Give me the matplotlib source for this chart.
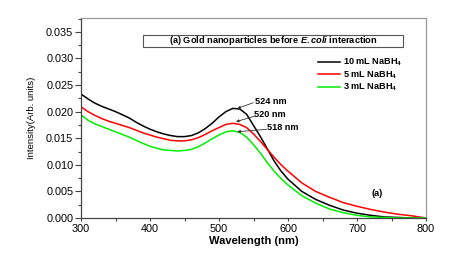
import matplotlib
matplotlib.use("Agg")
import matplotlib.pyplot as plt
from matplotlib.patches import Rectangle
from matplotlib.ticker import MultipleLocator, FormatStrFormatter

plt.rcParams['font.family'] = ['Liberation Sans', 'DejaVu Sans']
plt.rcParams['mathtext.fontset'] = 'custom'
plt.rcParams['mathtext.rm'] = 'Liberation Sans:bold'
plt.rcParams['mathtext.it'] = 'Liberation Sans:italic:bold'
plt.rcParams['mathtext.bf'] = 'Liberation Sans:bold'

# ---- data ----
wavelength = [300, 310, 320, 330, 340, 350, 360, 370, 380, 390,
              400, 410, 420, 430, 440, 450, 460, 470, 480, 490,
              500, 510, 520, 530, 540, 550, 560, 570, 580, 590,
              600, 620, 640, 660, 680, 700, 720, 740, 760, 780, 800]

nabh4_10 = [0.0233, 0.0224, 0.0216, 0.0210, 0.0205, 0.0200, 0.0194, 0.0188, 0.0180, 0.0173,
            0.0167, 0.0162, 0.0158, 0.0155, 0.0153, 0.0153, 0.0155, 0.0160, 0.0168, 0.0178,
            0.0190, 0.0200, 0.0206, 0.0205, 0.0195, 0.0174, 0.0153, 0.0130, 0.0107, 0.0088,
            0.0073, 0.0050, 0.0035, 0.0024, 0.0015, 0.0009, 0.0005, 0.0002, 0.0001, 0.0000, 0.0000]

nabh4_5 = [0.0209, 0.0200, 0.0193, 0.0187, 0.0182, 0.0178, 0.0174, 0.0170, 0.0165, 0.0160,
           0.0156, 0.0152, 0.0149, 0.0146, 0.0145, 0.0145, 0.0147, 0.0151, 0.0157, 0.0164,
           0.0170, 0.0176, 0.0178, 0.0176, 0.0170, 0.0158, 0.0144, 0.0129, 0.0114, 0.0100,
           0.0088, 0.0066, 0.0050, 0.0039, 0.0029, 0.0022, 0.0016, 0.0011, 0.0007, 0.0004, 0.0000]

nabh4_3 = [0.0194, 0.0184, 0.0177, 0.0172, 0.0167, 0.0162, 0.0157, 0.0152, 0.0146, 0.0140,
           0.0135, 0.0131, 0.0128, 0.0127, 0.0126, 0.0127, 0.0129, 0.0134, 0.0141, 0.0149,
           0.0156, 0.0162, 0.0164, 0.0161, 0.0152, 0.0138, 0.0122, 0.0104, 0.0088, 0.0074,
           0.0062, 0.0042, 0.0028, 0.0017, 0.0010, 0.0005, 0.0002, 0.0001, 0.0000, 0.0000, 0.0000]

labels = ["10 mL NaBH$_4$", "5 mL NaBH$_4$", "3 mL NaBH$_4$"]
colors = ["#000000", "#ff0000", "#00ee00"]
peak_labels = ["524 nm", "520 nm", "518 nm"]

# ---- figure ----
fig = plt.figure(figsize=(4.61, 2.67), dpi=100)
ax = fig.add_axes([81/461, 49/267, 345/461, 200/267])

for y, lab, c in zip([nabh4_10, nabh4_5, nabh4_3], labels, colors):
    ax.plot(wavelength, y, color=c, lw=1.1, label=lab)

ax.set_xlim(300, 800)
ax.set_ylim(0, 0.0376)
ax.xaxis.set_major_locator(MultipleLocator(100))
ax.xaxis.set_minor_locator(MultipleLocator(50))
ax.yaxis.set_major_locator(MultipleLocator(0.005))
ax.yaxis.set_minor_locator(MultipleLocator(0.0025))
ax.yaxis.set_major_formatter(FormatStrFormatter('%.3f'))
ax.tick_params(which='both', direction='out', top=False, right=False,
               labelsize=7.8, width=0.8, color='#444444', pad=1.5)
ax.tick_params(axis='y', which='major', length=4)
ax.tick_params(axis='y', which='minor', length=2.5)
ax.tick_params(axis='x', which='both', length=2.5)

for s in ['left', 'bottom']:
    ax.spines[s].set_color('#444444')
    ax.spines[s].set_linewidth(0.9)
for s in ['top', 'right']:
    ax.spines[s].set_color('#999999')
    ax.spines[s].set_linewidth(0.9)

ax.set_xlabel("Wavelength (nm)", fontsize=8, fontweight='bold', labelpad=2)
ax.set_ylabel("Intensity(Arb. units)", fontsize=6.8, labelpad=7)

# title box
ax.add_patch(Rectangle((0.179, 0.855), 0.754, 0.06, transform=ax.transAxes,
                       fill=False, ec='#555555', lw=0.8))
ax.text(0.5565, 0.885, r"(a) Gold nanoparticles before $\mathit{E.coli}$ interaction",
        transform=ax.transAxes, ha='center', va='center', fontsize=6.7, fontweight='bold')

leg = ax.legend(loc='upper left', bbox_to_anchor=(0.687, 0.805), frameon=False,
                prop={'weight': 'bold', 'size': 6.6},
                handlelength=2.4, handletextpad=0.35, labelspacing=0.1,
                borderpad=0, borderaxespad=0)

# peak annotations
text_pos = [(552, 0.02186), (551, 0.01949), (569, 0.01697)]
tips = [(526.5, 0.0206), (524.6, 0.0181), (526.5, 0.01622)]
tails = [(549.7, 0.02167), (552, 0.01917), (569, 0.01667)]
for lab, tp, tip, tail in zip(peak_labels, text_pos, tips, tails):
    ax.text(tp[0], tp[1], lab, fontsize=6.6, fontweight='bold', ha='left', va='center')
    ax.annotate('', xy=tip, xytext=tail,
                arrowprops=dict(arrowstyle='-|>', color='#333333', lw=0.6,
                                mutation_scale=4, shrinkA=0, shrinkB=0))

ax.text(728.5, 0.00464, "(a)", fontsize=6.6, fontweight='bold', ha='center', va='center')

fig.savefig("out.png", dpi=100)
